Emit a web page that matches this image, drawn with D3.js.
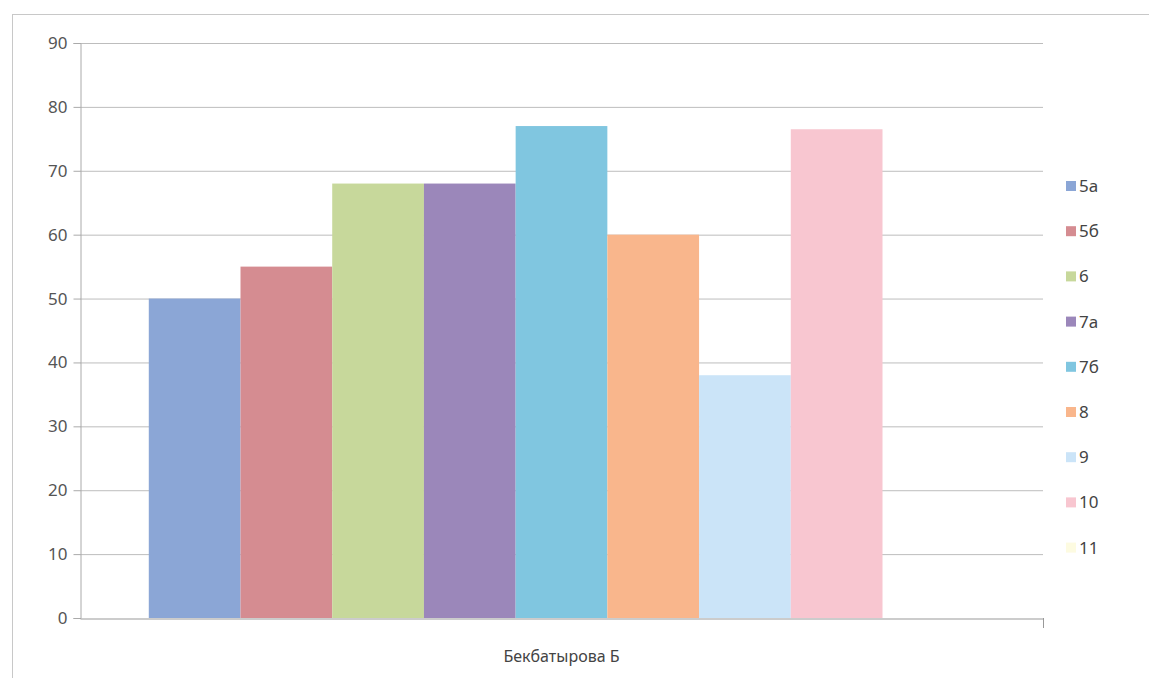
<!DOCTYPE html>
<html>
<head>
<meta charset="utf-8">
<script src="https://cdn.jsdelivr.net/npm/d3@7"></script>
<style>
  body { margin: 0; background: #fff; }
  svg { display: block; font-family: "Noto Sans", "Open Sans", sans-serif; }
</style>
</head>
<body>
<svg id="chart"></svg>
<script>
// data
const category = "Бекбатырова Б";
const seriesNames = ["5а", "5б", "6", "7а", "7б", "8", "9", "10", "11"];
const seriesValues = [50, 55, 68, 68, 77, 60, 38, 76.5, 0];
const seriesColors = ["#8ba6d6", "#d58c91", "#c7d89b", "#9b87ba", "#80c6e0", "#f9b68c", "#cbe4f8", "#f8c6d0", "#fdfbe1"];
const yTicks = [0, 10, 20, 30, 40, 50, 60, 70, 80, 90];

const width = 1149, height = 678;
const plot = { left: 80, right: 1043, top: 43, bottom: 618 };

const svg = d3.select("#chart").attr("width", width).attr("height", height);

// outer chart frame
svg.append("rect")
  .attr("x", 12.5).attr("y", 14.5)
  .attr("width", 1200).attr("height", 700)
  .attr("fill", "none").attr("stroke", "#c8c8c8");

const y = d3.scaleLinear().domain([0, 90]).range([plot.bottom, plot.top]);

// one category; Excel-like gap width 150%
const x0 = d3.scaleBand().domain([category]).range([plot.left, plot.right]);
const groupW = x0.bandwidth();
const barW = groupW / (seriesNames.length + 1.5);
const x1 = d3.scaleBand().domain(seriesNames)
  .range([x0(category) + barW * 0.75, x0(category) + groupW - barW * 0.75])
  .padding(0);

// gridlines
svg.append("g").selectAll("line")
  .data(yTicks.filter(d => d > 0))
  .enter().append("line")
  .attr("x1", plot.left).attr("x2", plot.right)
  .attr("y1", d => y(d) + 0.5).attr("y2", d => y(d) + 0.5)
  .attr("stroke", "#bdbdbd").attr("stroke-width", 1);

// bars
svg.append("g").selectAll("rect")
  .data(seriesNames.map((n, i) => ({ name: n, value: seriesValues[i], color: seriesColors[i] })))
  .enter().append("rect")
  .attr("x", d => x1(d.name))
  .attr("y", d => y(d.value))
  .attr("width", x1.bandwidth())
  .attr("height", d => y(0) - y(d.value))
  .attr("fill", d => d.color);

// y axis
const yAxis = svg.append("g")
  .attr("transform", `translate(${plot.left + 0.5},0)`)
  .call(d3.axisLeft(y).tickValues(yTicks).tickSize(7).tickPadding(6));
yAxis.select(".domain").attr("stroke", "#aaaaaa");
yAxis.selectAll(".tick line").attr("stroke", "#aaaaaa");
yAxis.selectAll(".tick text")
  .attr("fill", "#555").style("font-size", "17px")
  .style("font-family", "'Noto Sans', sans-serif");

// x axis
const xAxis = svg.append("g")
  .attr("transform", `translate(0,${plot.bottom + 0.5})`)
  .call(d3.axisBottom(x0).tickSize(0).tickPadding(32));
xAxis.select(".domain").attr("stroke", "#999999");
xAxis.selectAll(".tick text")
  .attr("fill", "#444").style("font-size", "16px")
  .style("font-family", "'Noto Sans', sans-serif");
svg.append("line")
  .attr("x1", plot.right + 0.5).attr("x2", plot.right + 0.5)
  .attr("y1", plot.bottom).attr("y2", plot.bottom + 10)
  .attr("stroke", "#999999");

// legend
const legend = svg.append("g").selectAll("g")
  .data(seriesNames)
  .enter().append("g")
  .attr("transform", (d, i) => `translate(1066,${186 + i * 45.2})`);
legend.append("rect")
  .attr("x", 0).attr("y", -5)
  .attr("width", 10).attr("height", 10)
  .attr("fill", (d, i) => seriesColors[i]);
legend.append("text")
  .attr("x", 13).attr("y", 0).attr("dy", "0.35em")
  .attr("fill", "#444").style("font-size", "17px")
  .text(d => d);
</script>
</body>
</html>
